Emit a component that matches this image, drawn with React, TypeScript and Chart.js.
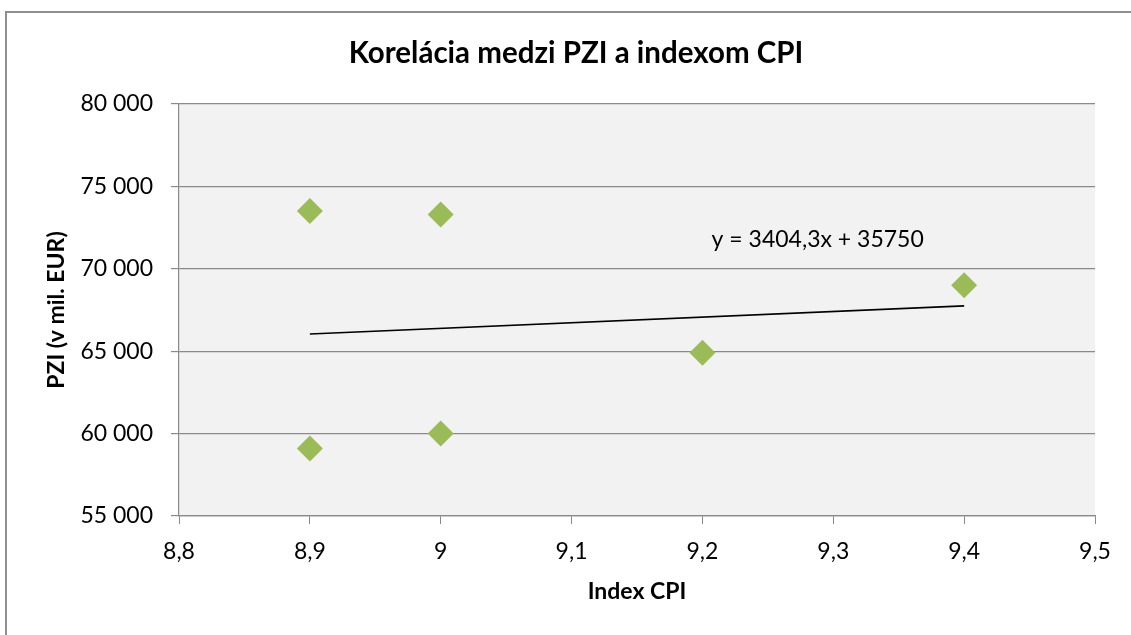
import React, { useEffect, useRef } from "react";
import { Chart, registerables } from "chart.js";

Chart.register(...registerables);

const titleText = "Korelácia medzi PZI a indexom CPI";
const xAxisTitle = "Index CPI";
const yAxisTitle = "PZI (v mil. EUR)";

const cpiValues = [8.9, 8.9, 9.0, 9.0, 9.2, 9.4];
const pziValues = [73500, 59100, 73300, 60000, 64900, 69000];

const trendSlope = 3404.3;
const trendIntercept = 35750;
const trendXRange = [8.9, 9.4];
const trendLabel = "y = 3404,3x + 35750";
const trendLabelAt = [9.207, 71750];

const xTickValues = [8.8, 8.9, 9.0, 9.1, 9.2, 9.3, 9.4, 9.5];
const xTickLabels = ["8,8", "8,9", "9", "9,1", "9,2", "9,3", "9,4", "9,5"];
const yTickValues = [55000, 60000, 65000, 70000, 75000, 80000];
const yTickLabels = ["55 000", "60 000", "65 000", "70 000", "75 000", "80 000"];

const FONT = "Lato, 'Open Sans', sans-serif";
const GRID = "#8a8a8a";

function labelFor(values: number[], labels: string[], v: number) {
  const i = values.findIndex((t) => Math.abs(t - v) < 1e-6);
  return i >= 0 ? labels[i] : "";
}

export default function App() {
  const ref = useRef<HTMLCanvasElement | null>(null);

  useEffect(() => {
    let chart: Chart | null = null;
    let cancelled = false;
    const build = () => {
      if (cancelled || !ref.current) return;
      Chart.defaults.color = "#000";
      const plotBg = {
        id: "plotBg",
        beforeDraw(c: any) {
          const { ctx, chartArea } = c;
          ctx.save();
          ctx.fillStyle = "#f2f2f2";
          ctx.fillRect(chartArea.left, chartArea.top, chartArea.right - chartArea.left, chartArea.bottom - chartArea.top);
          ctx.restore();
        },
      };
      const eqLabel = {
        id: "eqLabel",
        afterDatasetsDraw(c: any) {
          const { ctx, scales } = c;
          ctx.save();
          ctx.font = `23px ${FONT}`;
          ctx.fillStyle = "#000";
          ctx.textAlign = "left";
          ctx.textBaseline = "middle";
          ctx.fillText(trendLabel, scales.x.getPixelForValue(trendLabelAt[0]), scales.y.getPixelForValue(trendLabelAt[1]));
          ctx.restore();
        },
      };
      chart = new Chart(ref.current, {
        type: "scatter",
        data: {
          datasets: [
            {
              label: "PZI",
              data: cpiValues.map((x, i) => ({ x, y: pziValues[i] })),
              pointStyle: "rectRot",
              pointRadius: 13,
              pointHoverRadius: 13,
              backgroundColor: "#9bbb59",
              borderColor: "#9bbb59",
              borderWidth: 0,
              showLine: false,
              order: 1,
            },
            {
              type: "line",
              label: "trend",
              data: trendXRange.map((x) => ({ x, y: trendSlope * x + trendIntercept })),
              borderColor: "#000",
              borderWidth: 1.6,
              pointRadius: 0,
              fill: false,
              order: 2,
            } as any,
          ],
        },
        options: {
          animation: false,
          responsive: false,
          maintainAspectRatio: false,
          layout: { padding: { left: 0, top: 104, right: 36, bottom: 0 } },
          plugins: {
            legend: { display: false },
            tooltip: { enabled: false },
            title: { display: false },
          },
          scales: {
            x: {
              type: "linear",
              min: 8.8,
              max: 9.5,
              afterBuildTicks(s: any) {
                s.ticks = xTickValues.map((v) => ({ value: v }));
              },
              afterFit(s: any) {
                s.height = 119;
              },
              ticks: {
                color: "#000",
                font: { family: FONT, size: 23 },
                padding: 14,
                maxRotation: 0,
                autoSkip: false,
                callback: (v: any) => labelFor(xTickValues, xTickLabels, Number(v)),
              },
              grid: { drawOnChartArea: false, drawTicks: true, tickLength: 8, color: GRID, lineWidth: 1 },
              border: { display: true, color: GRID, width: 1.2 },
              title: {
                display: true,
                text: xAxisTitle,
                color: "#000",
                font: { family: FONT, size: 23, weight: "bold" },
                padding: { top: 0, bottom: 30 },
              },
            },
            y: {
              type: "linear",
              min: 55000,
              max: 80000,
              afterBuildTicks(s: any) {
                s.ticks = yTickValues.map((v) => ({ value: v }));
              },
              afterFit(s: any) {
                s.width = 179;
              },
              ticks: {
                color: "#000",
                font: { family: FONT, size: 23 },
                padding: 18,
                autoSkip: false,
                callback: (v: any) => labelFor(yTickValues, yTickLabels, Number(v)),
              },
              grid: { drawOnChartArea: true, drawTicks: true, tickLength: 8, color: GRID, lineWidth: 1.2 },
              border: { display: true, color: GRID, width: 1.2 },
              title: {
                display: true,
                text: yAxisTitle,
                color: "#000",
                font: { family: FONT, size: 23, weight: "bold" },
                padding: { top: 43, bottom: 0 },
              },
            },
          },
        },
        plugins: [plotBg, eqLabel],
      } as any);
    };
    const fontsReady = (document as any).fonts
      ? Promise.all([
          (document as any).fonts.load(`23px Lato`),
          (document as any).fonts.load(`bold 27px Lato`),
        ]).catch(() => null)
      : Promise.resolve(null);
    fontsReady.then(build);
    return () => {
      cancelled = true;
      if (chart) chart.destroy();
    };
  }, []);

  return (
    <div style={{ position: "fixed", left: 0, top: 0, width: 1131, height: 635, background: "#fff", overflow: "hidden" }}>
      <div
        style={{
          position: "absolute",
          left: 5,
          top: 11,
          width: 1200,
          height: 700,
          borderLeft: "2px solid #8f8f8f",
          borderTop: "2px solid #8f8f8f",
        }}
      />
      <canvas ref={ref} width={1131} height={635} style={{ position: "absolute", left: 0, top: 0, width: 1131, height: 635 }} />
      <div
        style={{
          position: "absolute",
          left: 6,
          width: 1140,
          top: 33.6,
          margin: 0,
          textAlign: "center",
          fontFamily: FONT,
          fontWeight: "bold",
          fontSize: "29.5px",
          lineHeight: 1.2,
          color: "#000",
          whiteSpace: "nowrap",
        }}
      >
        {titleText}
      </div>
    </div>
  );
}
